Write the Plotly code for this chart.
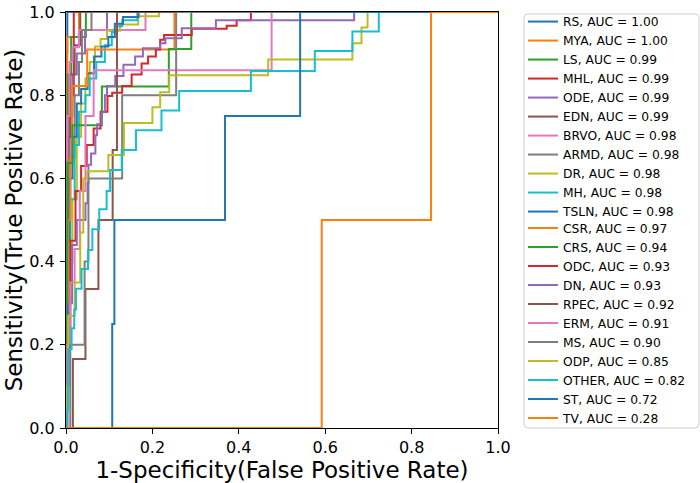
import plotly.graph_objects as go

# ROC curves: corner points (fpr, tpr)
names = ["RS", "MYA", "LS", "MHL", "ODE", "EDN", "BRVO", "ARMD", "DR", "MH", "TSLN",
         "CSR", "CRS", "ODC", "DN", "RPEC", "ERM", "MS", "ODP", "OTHER", "ST", "TV"]
auc = [1.00, 1.00, 0.99, 0.99, 0.99, 0.99, 0.98, 0.98, 0.98, 0.98, 0.98,
       0.97, 0.94, 0.93, 0.93, 0.92, 0.91, 0.90, 0.85, 0.82, 0.72, 0.28]

fpr_RS = [0, 0, 0.003, 0.003, 1]
tpr_RS = [0, 0.9, 0.9, 1, 1]
fpr_MYA = [0, 0, 0.003, 0.003, 0.03, 0.03, 1]
tpr_MYA = [0, 0.7, 0.7, 0.94, 0.94, 1, 1]
fpr_LS = [0, 0, 0.005, 0.005, 0.012, 0.012, 0.046, 0.046, 1]
tpr_LS = [0, 0.6, 0.6, 0.85, 0.85, 0.94, 0.94, 1, 1]
fpr_MHL = [0, 0, 0.003, 0.003, 0.008, 0.008, 0.012, 0.012, 0.018, 0.018, 1]
tpr_MHL = [0, 0.3, 0.3, 0.55, 0.55, 0.7, 0.7, 0.8, 0.8, 1, 1]
fpr_ODE = [0, 0, 0.003, 0.003, 0.008, 0.008, 0.015, 0.015, 0.025, 0.025, 0.044, 0.044, 0.095, 0.095, 1]
tpr_ODE = [0, 0.3, 0.3, 0.6, 0.6, 0.75, 0.75, 0.85, 0.85, 0.9, 0.9, 0.957, 0.957, 1, 1]
fpr_EDN = [0, 0, 0.005, 0.005, 0.01, 0.01, 0.02, 0.02, 0.033, 0.033, 1]
tpr_EDN = [0, 0.4, 0.4, 0.7, 0.7, 0.85, 0.85, 0.92, 0.92, 1, 1]
fpr_BRVO = [0, 0, 0.003, 0.003, 0.008, 0.008, 0.015, 0.015, 0.03, 0.03, 0.184, 0.184, 1]
tpr_BRVO = [0, 0.5, 0.5, 0.75, 0.75, 0.88, 0.88, 0.915, 0.915, 0.957, 0.957, 1, 1]
fpr_ARMD = [0, 0, 0.005, 0.005, 0.01, 0.01, 0.02, 0.02, 0.03, 0.03, 0.037, 0.037, 0.059, 0.059, 1]
tpr_ARMD = [0, 0.2, 0.2, 0.5, 0.5, 0.65, 0.65, 0.8, 0.8, 0.88, 0.88, 0.957, 0.957, 1, 1]
fpr_DR = [0, 0, 0.003, 0.003, 0.008, 0.008, 0.015, 0.015, 0.025, 0.025, 0.035, 0.035, 0.045, 0.045,
          0.055, 0.055, 0.067, 0.067, 0.08, 0.08, 0.095, 0.095, 0.125, 0.125, 0.167, 0.167, 0.215, 0.215, 1]
tpr_DR = [0, 0.1, 0.1, 0.27, 0.27, 0.4, 0.4, 0.55, 0.55, 0.7, 0.7, 0.78, 0.78, 0.84,
          0.84, 0.88, 0.88, 0.917, 0.917, 0.935, 0.935, 0.955, 0.955, 0.97, 0.97, 0.99, 0.99, 1, 1]
fpr_MH = [0, 0, 0.005, 0.005, 0.01, 0.01, 0.02, 0.02, 0.03, 0.03, 0.045, 0.045, 0.055, 0.055,
          0.07, 0.07, 0.09, 0.09, 0.106, 0.106, 0.118, 0.118, 0.13, 0.13, 0.165, 0.165, 1]
tpr_MH = [0, 0.15, 0.15, 0.4, 0.4, 0.55, 0.55, 0.68, 0.68, 0.76, 0.76, 0.8, 0.8, 0.84,
          0.84, 0.88, 0.88, 0.92, 0.92, 0.952, 0.952, 0.966, 0.966, 0.98, 0.98, 1, 1]
fpr_TSLN = [0, 0, 0.003, 0.003, 0.008, 0.008, 0.015, 0.015, 0.025, 0.025, 0.035, 0.035, 0.05, 0.05,
            0.065, 0.065, 0.082, 0.082, 0.098, 0.098, 0.113, 0.113, 0.132, 0.132, 0.168, 0.168, 1]
tpr_TSLN = [0, 0.2, 0.2, 0.45, 0.45, 0.6, 0.6, 0.7, 0.7, 0.78, 0.78, 0.815, 0.815, 0.853,
            0.853, 0.893, 0.893, 0.917, 0.917, 0.94, 0.94, 0.972, 0.972, 0.988, 0.988, 1, 1]
fpr_CSR = [0, 0, 0.005, 0.005, 0.01, 0.01, 0.014, 0.014, 0.049, 0.049, 0.251, 0.251, 1]
tpr_CSR = [0, 0.3, 0.3, 0.5, 0.5, 0.65, 0.65, 0.822, 0.822, 0.91, 0.91, 1, 1]
fpr_CRS = [0, 0, 0.003, 0.003, 0.015, 0.015, 0.083, 0.083, 0.238, 0.238, 0.29, 0.29, 1]
tpr_CRS = [0, 0.3, 0.3, 0.637, 0.637, 0.728, 0.728, 0.821, 0.821, 0.911, 0.911, 1, 1]
fpr_ODC = [0, 0.003, 0.003, 0.01, 0.01, 0.022, 0.022, 0.035, 0.035, 0.048, 0.048, 0.064, 0.064,
           0.08, 0.08, 0.096, 0.096, 0.107, 0.107, 0.13, 0.13, 0.152, 0.152, 0.175, 0.175, 0.19, 0.19,
           0.208, 0.208, 0.218, 0.218, 0.227, 0.227, 0.291, 0.291, 0.372, 0.372, 0.395, 0.395,
           0.428, 0.428, 1]
tpr_ODC = [0, 0, 0.2, 0.2, 0.45, 0.45, 0.57, 0.57, 0.63, 0.63, 0.68, 0.68, 0.72,
           0.72, 0.76, 0.76, 0.798, 0.798, 0.806, 0.806, 0.822, 0.822, 0.85, 0.85, 0.876, 0.876, 0.893,
           0.893, 0.91, 0.91, 0.933, 0.933, 0.945, 0.945, 0.96, 0.96, 0.967, 0.967, 0.98,
           0.98, 1, 1]
fpr_DN = [0, 0.003, 0.003, 0.007, 0.007, 0.014, 0.014, 0.025, 0.025, 0.045, 0.045, 0.05, 0.05,
          0.052, 0.052, 0.058, 0.058, 0.068, 0.068, 0.072, 0.072, 0.082, 0.082, 0.09, 0.09, 0.095,
          0.095, 0.114, 0.114, 0.133, 0.133, 0.16, 0.16, 0.178, 0.178, 0.218, 0.218, 0.23, 0.23,
          0.268, 0.268, 0.347, 0.347, 0.667, 0.667, 1]
tpr_DN = [0, 0, 0.1, 0.1, 0.3, 0.3, 0.44, 0.44, 0.5, 0.5, 0.54, 0.54, 0.589,
          0.589, 0.633, 0.633, 0.66, 0.66, 0.704, 0.704, 0.73, 0.73, 0.759, 0.759, 0.8, 0.8,
          0.822, 0.822, 0.846, 0.846, 0.873, 0.873, 0.893, 0.893, 0.913, 0.913, 0.925, 0.925, 0.937,
          0.937, 0.961, 0.961, 0.98, 0.98, 1, 1]
fpr_RPEC = [0, 0.016, 0.016, 0.045, 0.045, 0.075, 0.075, 0.108, 0.108, 0.118, 0.118, 1]
tpr_RPEC = [0, 0, 0.166, 0.166, 0.334, 0.334, 0.5, 0.5, 0.668, 0.668, 1, 1]
fpr_ERM = [0, 0.003, 0.003, 0.01, 0.01, 0.02, 0.02, 0.032, 0.032, 0.045, 0.045, 0.064, 0.064, 0.476, 0.476, 1]
tpr_ERM = [0, 0, 0.2, 0.2, 0.35, 0.35, 0.43, 0.43, 0.57, 0.57, 0.75, 0.75, 0.86, 0.86, 1, 1]
fpr_MS = [0, 0.01, 0.01, 0.043, 0.043, 0.052, 0.052, 0.13, 0.13, 0.255, 0.255, 1]
tpr_MS = [0, 0, 0.2, 0.2, 0.4, 0.4, 0.6, 0.6, 0.8, 0.8, 1, 1]
fpr_ODP = [0, 0, 0.005, 0.005, 0.02, 0.02, 0.033, 0.033, 0.04, 0.04, 0.049, 0.049, 0.098, 0.098,
           0.134, 0.134, 0.2, 0.2, 0.218, 0.218, 0.239, 0.239, 0.468, 0.468, 0.663, 0.663,
           0.684, 0.684, 0.698, 0.698, 1]
tpr_ODP = [0, 0.1, 0.1, 0.27, 0.27, 0.35, 0.35, 0.47, 0.47, 0.6, 0.6, 0.617, 0.617, 0.656,
           0.656, 0.733, 0.733, 0.771, 0.771, 0.807, 0.807, 0.848, 0.848, 0.886, 0.886, 0.925,
           0.925, 0.963, 0.963, 1, 1]
fpr_OTHER = [0, 0.002, 0.002, 0.005, 0.005, 0.013, 0.013, 0.019, 0.019, 0.023, 0.023, 0.036, 0.036,
             0.051, 0.051, 0.061, 0.061, 0.077, 0.077, 0.094, 0.094, 0.102, 0.102, 0.129, 0.129,
             0.162, 0.162, 0.221, 0.221, 0.262, 0.262, 0.428, 0.428, 0.576, 0.576, 0.663, 0.663,
             0.724, 0.724, 1]
tpr_OTHER = [0, 0, 0.043, 0.043, 0.19, 0.19, 0.24, 0.24, 0.285, 0.285, 0.335, 0.335, 0.382,
             0.382, 0.428, 0.428, 0.478, 0.478, 0.526, 0.526, 0.57, 0.57, 0.62, 0.62, 0.668,
             0.668, 0.716, 0.716, 0.763, 0.763, 0.81, 0.81, 0.858, 0.858, 0.906, 0.906, 0.953,
             0.953, 1, 1]
fpr_ST = [0, 0.107, 0.107, 0.112, 0.112, 0.368, 0.368, 0.542, 0.542, 1]
tpr_ST = [0, 0, 0.25, 0.25, 0.5, 0.5, 0.75, 0.75, 1, 1]
fpr_TV = [0, 0.592, 0.592, 0.845, 0.845, 1]
tpr_TV = [0, 0, 0.5, 0.5, 1, 1]

fprs = [fpr_RS, fpr_MYA, fpr_LS, fpr_MHL, fpr_ODE, fpr_EDN, fpr_BRVO, fpr_ARMD, fpr_DR, fpr_MH, fpr_TSLN,
        fpr_CSR, fpr_CRS, fpr_ODC, fpr_DN, fpr_RPEC, fpr_ERM, fpr_MS, fpr_ODP, fpr_OTHER, fpr_ST, fpr_TV]
tprs = [tpr_RS, tpr_MYA, tpr_LS, tpr_MHL, tpr_ODE, tpr_EDN, tpr_BRVO, tpr_ARMD, tpr_DR, tpr_MH, tpr_TSLN,
        tpr_CSR, tpr_CRS, tpr_ODC, tpr_DN, tpr_RPEC, tpr_ERM, tpr_MS, tpr_ODP, tpr_OTHER, tpr_ST, tpr_TV]

tick_vals = [0.0, 0.2, 0.4, 0.6, 0.8, 1.0]
tick_text = ["0.0", "0.2", "0.4", "0.6", "0.8", "1.0"]

palette = ["#1f77b4", "#ff7f0e", "#2ca02c", "#d62728", "#9467bd",
           "#8c564b", "#e377c2", "#7f7f7f", "#bcbd22", "#17becf"]

# geometry (pixels) of the plot area
W, H = 700, 483
ML, MR, MT, MB = 66, 202, 7, 55
PW, PH = W - ML - MR, H - MT - MB

def px_to_paper_x(px):
    return (px - ML) / PW

def px_to_paper_y(py):
    return (H - MB - py) / PH

fig = go.Figure()
half = (len(names) + 1) // 2
for i, (n, a) in enumerate(zip(names, auc)):
    fig.add_trace(go.Scatter(
        x=fprs[i], y=tprs[i], mode="lines",
        name=f"{n}, AUC = {a:.2f}",
        line=dict(color=palette[i % 10], width=2),
        legend="legend" if i < half else "legend2",
    ))

font_family = "DejaVu Sans, sans-serif"
axis_common = dict(
    range=[0, 1], tickvals=tick_vals, ticktext=tick_text,
    showline=True, mirror=True, linecolor="black", linewidth=1.3,
    ticks="outside", ticklen=5, tickwidth=1.2, tickcolor="black",
    showgrid=False, zeroline=False, automargin=False,
    tickfont=dict(family=font_family, size=16, color="black"),
)

leg_common = dict(
    xanchor="left", yanchor="top",
    bgcolor="rgba(0,0,0,0)", borderwidth=0,
    font=dict(family=font_family, size=12.3, color="black"),
    tracegroupgap=0, itemwidth=30,
)

# legend frame (rounded box) drawn behind the two legend columns
bx0, bx1 = px_to_paper_x(524), px_to_paper_x(699)
by0, by1 = px_to_paper_y(428), px_to_paper_y(9)
rx, ry = 4 / PW, 4 / PH
frame_path = (f"M {bx0+rx},{by1} L {bx1-rx},{by1} Q {bx1},{by1} {bx1},{by1-ry} "
              f"L {bx1},{by0+ry} Q {bx1},{by0} {bx1-rx},{by0} L {bx0+rx},{by0} "
              f"Q {bx0},{by0} {bx0},{by0+ry} L {bx0},{by1-ry} Q {bx0},{by1} {bx0+rx},{by1} Z")

fig.update_layout(
    width=W, height=H,
    margin=dict(l=ML, r=MR, t=MT, b=MB),
    plot_bgcolor="white", paper_bgcolor="white",
    font=dict(family=font_family, color="black"),
    xaxis=dict(**axis_common,
               title=dict(text="1-Specificity(False Positive Rate)",
                          font=dict(family=font_family, size=23), standoff=0)),
    yaxis=dict(**axis_common, ticklabelstandoff=2,
               title=dict(text="Sensitivity(True Positive Rate)",
                          font=dict(family=font_family, size=23), standoff=0)),
    legend=dict(x=px_to_paper_x(523), y=px_to_paper_y(2), **leg_common),
    legend2=dict(x=px_to_paper_x(523), y=px_to_paper_y(2 + 19 * half), **leg_common),
    shapes=[dict(type="path", xref="paper", yref="paper", path=frame_path,
                 line=dict(color="#d0d0d0", width=1), fillcolor="white", layer="below")],
    showlegend=True,
)

fig.write_html("out.html", config={"displayModeBar": False},
               post_script="document.body.style.margin='0px';")
